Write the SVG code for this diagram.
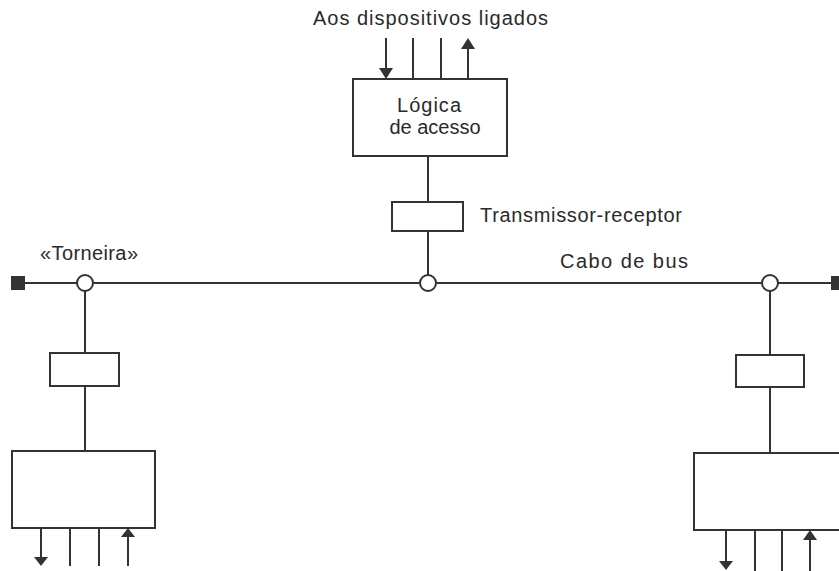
<svg xmlns="http://www.w3.org/2000/svg" width="839" height="571" viewBox="0 0 839 571">
<defs>
<style>
.box{fill:#fff;stroke:#333;stroke-width:2}
.ln{stroke:#333;stroke-width:2;fill:none}
.tap{fill:#fff;stroke:#333;stroke-width:2}
.term{fill:#333}
.t{font-family:"Liberation Sans",Arial,sans-serif;font-size:20px;fill:#2a2a2a}
.ah{fill:#333}
</style>
</defs>
<rect width="839" height="571" fill="#fff"/>
<g id="connectors">
<line class="ln" x1="25" y1="283" x2="831" y2="283"/>
<line class="ln" x1="428" y1="156" x2="428" y2="202"/>
<line class="ln" x1="428" y1="231" x2="428" y2="275"/>
<line class="ln" x1="85" y1="291" x2="85" y2="353"/>
<line class="ln" x1="85" y1="386" x2="85" y2="451"/>
<line class="ln" x1="770" y1="291" x2="770" y2="355"/>
<line class="ln" x1="770" y1="387" x2="770" y2="453"/>
<line class="ln" x1="386" y1="38" x2="386" y2="70"/>
<polygon class="ah" points="379,68 393,68 386,79"/>
<line class="ln" x1="413" y1="38" x2="413" y2="79"/>
<line class="ln" x1="441" y1="38" x2="441" y2="79"/>
<line class="ln" x1="468" y1="47" x2="468" y2="79"/>
<polygon class="ah" points="461,49 475,49 468,38"/>
<line class="ln" x1="41" y1="528" x2="41" y2="558"/>
<polygon class="ah" points="34,557 48,557 41,566"/>
<line class="ln" x1="70" y1="528" x2="70" y2="566"/>
<line class="ln" x1="99" y1="528" x2="99" y2="566"/>
<line class="ln" x1="128" y1="536" x2="128" y2="566"/>
<polygon class="ah" points="121,537 135,537 128,528"/>
<line class="ln" x1="726" y1="530" x2="726" y2="562"/>
<polygon class="ah" points="719,561 733,561 726,570"/>
<line class="ln" x1="755" y1="530" x2="755" y2="571"/>
<line class="ln" x1="782" y1="530" x2="782" y2="571"/>
<line class="ln" x1="810" y1="538" x2="810" y2="571"/>
<polygon class="ah" points="803,540 817,540 810,530"/>
</g>
<g id="term-left"><rect class="term" x="11" y="276" width="14" height="14"/></g>
<g id="term-right"><rect class="term" x="831" y="276" width="14" height="14"/></g>
<g id="tap-left"><circle class="tap" cx="85" cy="283" r="8"/></g>
<g id="tap-center"><circle class="tap" cx="428" cy="283" r="8"/></g>
<g id="tap-right"><circle class="tap" cx="770" cy="283" r="8"/></g>
<g id="access-logic">
<rect class="box" x="353" y="79" width="154" height="77"/>
<text class="t" x="397" y="112" textLength="64" lengthAdjust="spacing">Lógica</text>
<text class="t" x="435" y="134" text-anchor="middle">de acesso</text>
</g>
<g id="transceiver-center"><rect class="box" x="392" y="202" width="71" height="29"/></g>
<g id="transceiver-left"><rect class="box" x="50" y="353" width="69" height="33"/></g>
<g id="transceiver-right"><rect class="box" x="736" y="355" width="68" height="32"/></g>
<g id="device-left"><rect class="box" x="12" y="451" width="143" height="77"/></g>
<g id="device-right"><rect class="box" x="694" y="453" width="160" height="77"/></g>
<g id="labels">
<text class="t" x="313" y="25" textLength="235" lengthAdjust="spacing">Aos dispositivos ligados</text>
<text class="t" x="480" y="222" textLength="202" lengthAdjust="spacing">Transmissor-receptor</text>
<text class="t" x="560" y="268" textLength="128" lengthAdjust="spacing">Cabo de bus</text>
<text class="t" x="40" y="260" textLength="98" lengthAdjust="spacing">«Torneira»</text>
</g>
</svg>
